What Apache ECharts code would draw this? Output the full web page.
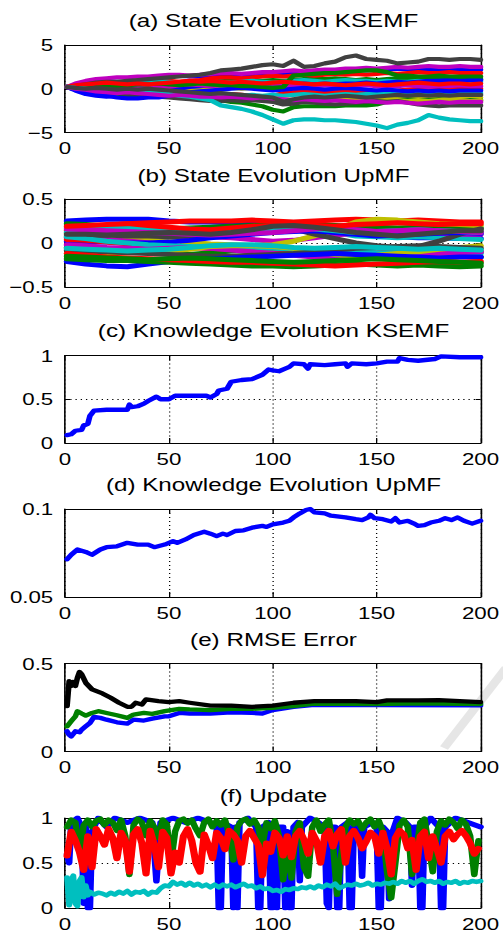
<!DOCTYPE html>
<html>
<head>
<meta charset="utf-8">
<script src="https://cdn.jsdelivr.net/npm/echarts@6/dist/echarts.min.js"></script>
<style>
  html, body { margin: 0; padding: 0; background: #fff; overflow: hidden; }
  /* the figure is laid out narrow and stretched horizontally, like the printed figure */
  #chart { width: 384px; height: 943px; transform: scaleX(1.31); transform-origin: 0 0; }
</style>
</head>
<body>
<div id="chart"></div>
<script>
// ---------------- data ----------------
// (a) state evolution, KSEMF: sample positions and trajectories
const stateX = [1,5,10,15,20,25,30,35,40,45,50,55,60,65,70,75,80,85,90,95,100,105,110,115,120,125,130,135,140,145,150,155,160,165,170,175,180,185,190,195,200];
const stateKsemfColors = ['b','g','r','c','m','y','k','b','g','r','c','m','y','k','b','g','r','c','m','k'];
const stateKsemf = [
  [0.2,0.3,0.4,0.5,0.6,0.6,0.7,0.8,0.9,1.1,1.4,1.5,1.4,1.4,1.5,1.6,1.7,1.6,1.5,1.6,1.6,1.7,1.8,1.8,1.9,2.0,2.0,2.1,2.2,2.1,2.2,2.2,2.3,2.2,2.1,2.2,2.2,2.3,2.2,2.2,2.2],
  [0.2,-0.1,-0.4,-0.6,-0.7,-0.8,-0.7,-0.6,-0.5,-0.3,-0.1,0.1,0.3,0.5,0.7,0.9,1.0,1.1,1.0,0.9,1.0,0.9,1.0,1.1,1.2,1.1,1.2,1.1,1.0,1.1,1.0,1.1,1.2,1.1,1.2,1.1,1.1,1.2,1.1,1.1,1.1],
  [0.2,0.2,0.3,0.4,0.4,0.5,0.6,0.6,0.7,0.8,0.9,0.8,0.9,1.0,1.2,1.3,1.3,1.2,1.3,1.4,1.5,1.4,1.5,1.6,1.5,1.6,1.7,1.6,1.7,1.6,1.7,1.8,1.7,1.8,1.9,1.8,1.8,1.9,1.8,1.8,1.8],
  [0.2,0.5,0.8,0.9,0.9,0.8,0.7,0.7,0.8,0.9,0.8,0.7,0.6,0.6,0.7,0.8,0.7,0.8,0.9,0.8,0.7,0.8,0.9,1.0,0.9,0.8,0.9,1.0,0.9,0.9,0.8,0.9,0.8,0.8,0.9,0.8,0.8,0.7,0.8,0.8,0.8],
  [0.2,0.6,0.9,1.1,1.2,1.3,1.3,1.4,1.4,1.5,1.6,1.6,1.5,1.6,1.7,1.8,1.8,1.7,1.8,1.9,1.9,2.0,2.1,2.0,2.1,2.2,2.2,2.3,2.3,2.4,2.3,2.4,2.5,2.4,2.5,2.6,2.5,2.5,2.6,2.5,2.5],
  [0.2,0.3,0.3,0.3,0.2,0.3,0.3,0.2,0.2,0.2,0.1,-0.3,-0.2,-0.1,0.0,0.1,0.1,0.0,0.1,0.2,0.1,0.0,0.0,-0.1,0.0,-0.1,-0.2,-0.1,-0.2,-0.3,-0.4,-0.8,-0.9,-1.0,-0.9,-1.0,-1.1,-1.0,-1.0,-1.1,-1.0],
  [0.2,0.3,0.5,0.7,0.8,0.8,0.9,1.0,1.1,1.2,1.3,1.4,1.5,1.6,1.8,2.1,2.2,2.3,2.5,2.7,2.8,2.6,3.2,2.5,2.6,2.9,3.1,3.6,3.8,3.4,3.3,3.2,2.9,3.0,3.1,3.4,3.4,3.3,3.4,3.4,3.3],
  [0.2,-0.2,-0.6,-0.8,-0.9,-0.8,-0.9,-0.8,-0.7,-0.5,-0.2,0.0,0.2,0.3,0.4,0.5,0.5,0.4,0.5,0.6,0.5,0.6,0.5,0.6,0.5,0.6,0.5,0.6,0.6,0.7,0.6,0.7,0.8,0.7,0.8,0.9,0.9,1.0,0.9,1.0,1.0],
  [0.2,0.0,-0.3,-0.5,-0.6,-0.7,-0.8,-0.7,-0.7,-0.6,-0.7,-0.9,-1.0,-1.1,-1.2,-1.3,-1.5,-1.6,-1.8,-2.0,-2.4,-2.6,-2.1,-2.0,-2.0,-2.0,-2.0,-1.9,-1.9,-1.9,-1.8,-1.5,-1.3,-1.2,-1.3,-1.3,-1.2,-1.3,-1.4,-1.3,-1.3],
  [0.2,0.0,-0.1,-0.2,-0.1,-0.2,-0.3,-0.2,-0.3,-0.4,-0.3,-0.4,-0.5,-0.6,-0.6,-0.7,-0.6,-0.7,-0.8,-0.9,-0.8,-0.5,-0.4,-0.3,-0.4,-0.5,-0.4,-0.3,-0.4,-0.3,-0.2,-0.3,-0.2,-0.1,0.0,-0.1,0.0,0.1,0.0,0.0,0.0],
  [0.2,0.1,0.0,-0.1,-0.2,-0.2,-0.3,-0.3,-0.2,-0.3,-0.5,-0.6,-0.5,-0.6,-0.7,-0.6,-0.7,-0.8,-0.7,-0.8,-0.7,-0.8,-0.7,-0.6,-0.7,-0.8,-0.7,-0.6,-0.7,-0.6,-0.5,-0.4,-0.5,-0.6,-0.5,-0.4,-0.5,-0.6,-0.5,-0.5,-0.5],
  [0.2,0.1,0.2,0.3,0.2,0.1,0.0,0.1,0.2,0.3,0.2,0.4,0.5,0.4,0.3,0.4,0.5,0.6,0.5,0.4,0.3,0.4,0.3,0.2,0.3,0.4,0.3,0.2,0.3,0.4,0.3,0.2,0.3,0.4,0.3,0.2,0.3,0.3,0.4,0.3,0.3],
  [0.2,0.1,-0.1,-0.2,-0.3,-0.4,-0.5,-0.6,-0.7,-0.6,-0.7,-0.8,-0.9,-0.8,-0.9,-1.0,-1.1,-1.0,-1.1,-1.2,-1.1,-1.2,-1.3,-1.2,-1.1,-1.2,-1.3,-1.2,-1.3,-1.4,-1.3,-1.2,-1.3,-1.4,-1.3,-1.4,-1.3,-1.2,-1.3,-1.4,-1.3],
  [0.2,0.0,-0.2,-0.3,-0.4,-0.5,-0.6,-0.6,-0.8,-0.9,-1.0,-1.1,-1.2,-1.3,-1.4,-1.4,-1.3,-1.4,-1.3,-1.4,-1.5,-1.8,-1.7,-1.5,-1.6,-1.7,-1.8,-1.7,-1.6,-1.5,-1.4,-1.5,-1.4,-1.6,-1.8,-1.9,-2.0,-1.9,-1.9,-1.9,-1.9],
  [0.2,-0.1,-0.4,-0.7,-0.8,-1.0,-1.1,-1.1,-1.0,-1.0,-0.8,-0.6,-0.4,-0.3,-0.2,-0.1,0.0,0.1,0.0,-0.1,-0.2,-0.1,0.0,0.1,0.0,-0.1,0.0,0.1,0.0,-0.1,-0.2,-0.1,-0.2,-0.3,-0.2,-0.3,-0.2,-0.3,-0.2,-0.2,-0.2],
  [0.2,0.2,0.1,0.2,0.3,0.3,0.4,0.5,0.5,0.6,0.5,0.4,0.5,0.6,0.5,0.4,0.4,0.3,0.3,0.2,0.1,0.2,1.5,1.6,1.7,1.8,1.8,1.9,2.0,2.1,2.1,1.9,1.5,1.5,1.4,1.4,1.5,1.4,1.4,1.4,1.4],
  [0.2,0.4,0.5,0.6,0.7,0.6,0.5,0.6,0.5,0.6,0.7,0.8,0.9,0.8,0.9,0.8,0.7,0.8,0.7,0.6,0.7,0.8,0.7,0.6,0.5,0.6,0.5,0.4,0.5,0.6,0.5,0.4,0.5,0.6,0.7,0.6,0.5,0.6,0.6,0.5,0.6],
  [0.2,0.1,0.0,-0.1,-0.2,-0.2,-0.3,-0.3,-0.4,-0.5,-0.6,-0.8,-0.9,-1.1,-1.3,-1.9,-2.1,-2.3,-2.6,-3.0,-3.5,-4.0,-3.6,-3.5,-3.5,-3.6,-3.6,-3.7,-3.8,-4.0,-4.2,-4.5,-4.1,-3.9,-3.6,-3.0,-3.3,-3.5,-3.6,-3.7,-3.7],
  [0.2,0.0,-0.1,-0.3,-0.4,-0.5,-0.4,-0.5,-0.6,-0.7,-0.8,-0.7,-0.8,-0.9,-0.9,-1.0,-0.9,-1.0,-1.1,-1.0,-1.1,-1.2,-1.3,-1.2,-1.3,-1.4,-1.3,-1.4,-1.5,-1.4,-1.5,-1.6,-1.5,-1.6,-1.7,-1.6,-1.5,-1.6,-1.5,-1.5,-1.5],
  [0.2,0.1,0.0,0.1,0.0,-0.1,0.0,-0.1,0.0,-0.1,-0.2,-0.3,-0.4,-0.5,-0.6,-0.5,-0.6,-0.7,-0.8,-0.9,-1.0,-1.5,-1.2,-1.0,-0.9,-1.0,-0.9,-0.8,-0.9,-1.0,-0.9,-0.8,-0.7,-0.8,-0.7,-0.8,-0.7,-0.8,-0.7,-0.7,-0.7]
];

// (b) state evolution, UpMF
const stateUpX = [1,10,20,30,40,50,60,70,80,90,100,110,120,130,140,150,160,170,180,190,200];
const stateUpmfColors = ['b','g','r','c','m','y','k','b','g','r','c','m','y','k','b','g','r','c','m','r','g','k','c'];
const stateUpmf = [
  [0.25,0.26,0.27,0.27,0.27,0.25,0.24,0.24,0.23,0.22,0.20,0.17,0.14,0.12,0.10,0.08,0.07,0.06,0.06,0.05,0.05],
  [0.22,0.21,0.19,0.18,0.17,0.16,0.17,0.18,0.19,0.20,0.21,0.22,0.21,0.20,0.19,0.18,0.17,0.18,0.19,0.18,0.17],
  [0.14,0.17,0.20,0.22,0.23,0.24,0.25,0.25,0.25,0.26,0.25,0.24,0.25,0.26,0.27,0.26,0.25,0.26,0.25,0.24,0.24],
  [0.18,0.18,0.19,0.19,0.18,0.17,0.16,0.14,0.12,0.11,0.13,0.17,0.15,0.12,0.08,0.07,0.06,0.07,0.06,0.05,0.04],
  [0.06,0.05,0.04,0.03,0.04,0.05,0.06,0.07,0.06,0.04,0.02,0.03,0.06,0.09,0.11,0.12,0.13,0.12,0.11,0.10,0.10],
  [0.11,0.12,0.10,0.08,0.06,0.03,0.01,-0.01,-0.02,-0.03,-0.02,0.02,0.08,0.15,0.24,0.27,0.26,0.24,0.22,0.21,0.20],
  [0.08,0.08,0.09,0.08,0.08,0.07,0.08,0.11,0.14,0.18,0.20,0.16,0.10,0.05,0.00,-0.03,-0.05,-0.04,0.02,0.10,0.16],
  [0.02,0.01,0.01,0.00,0.00,0.01,0.03,0.06,0.08,0.10,0.12,0.13,0.14,0.12,0.10,0.08,0.09,0.10,0.11,0.12,0.11],
  [-0.05,-0.07,-0.08,-0.10,-0.11,-0.12,-0.13,-0.11,-0.09,-0.08,-0.10,-0.12,-0.11,-0.09,-0.10,-0.12,-0.14,-0.15,-0.14,-0.15,-0.16],
  [0.04,0.03,0.01,-0.01,-0.03,-0.04,-0.05,-0.06,-0.07,-0.08,-0.09,-0.10,-0.11,-0.12,-0.12,-0.11,-0.10,-0.09,-0.10,-0.11,-0.10],
  [0.07,0.05,0.02,0.00,-0.02,-0.03,-0.04,-0.05,-0.05,-0.06,-0.06,-0.07,-0.08,-0.09,-0.10,-0.11,-0.11,-0.12,-0.11,-0.12,-0.12],
  [-0.02,-0.03,-0.05,-0.06,-0.07,-0.06,-0.05,-0.06,-0.08,-0.10,-0.12,-0.14,-0.16,-0.18,-0.17,-0.16,-0.15,-0.13,-0.12,-0.11,-0.10],
  [-0.12,-0.13,-0.12,-0.11,-0.10,-0.09,-0.07,-0.04,-0.03,-0.03,-0.04,-0.06,-0.09,-0.13,-0.15,-0.14,-0.12,-0.10,-0.07,-0.05,-0.03],
  [-0.08,-0.09,-0.10,-0.11,-0.12,-0.13,-0.14,-0.15,-0.15,-0.14,-0.13,-0.12,-0.10,-0.08,-0.06,-0.05,-0.04,-0.03,-0.04,-0.05,-0.06],
  [-0.21,-0.24,-0.26,-0.27,-0.24,-0.21,-0.19,-0.18,-0.17,-0.16,-0.15,-0.14,-0.13,-0.12,-0.13,-0.14,-0.15,-0.16,-0.17,-0.16,-0.16],
  [-0.18,-0.19,-0.20,-0.20,-0.21,-0.22,-0.23,-0.24,-0.25,-0.26,-0.26,-0.27,-0.26,-0.25,-0.24,-0.25,-0.26,-0.25,-0.26,-0.27,-0.26],
  [-0.12,-0.14,-0.16,-0.17,-0.18,-0.19,-0.20,-0.21,-0.22,-0.22,-0.23,-0.24,-0.25,-0.26,-0.25,-0.24,-0.23,-0.22,-0.21,-0.22,-0.21],
  [0.12,0.14,0.16,0.17,0.17,0.16,0.15,0.14,0.13,0.14,0.16,0.18,0.16,0.14,0.12,0.13,0.14,0.15,0.14,0.13,0.12],
  [0.16,0.15,0.14,0.13,0.12,0.11,0.10,0.09,0.10,0.11,0.12,0.14,0.16,0.17,0.15,0.13,0.14,0.15,0.14,0.13,0.12],
  [0.19,0.20,0.21,0.22,0.20,0.18,0.16,0.15,0.17,0.19,0.20,0.21,0.20,0.19,0.21,0.22,0.23,0.22,0.21,0.22,0.22],
  [-0.15,-0.16,-0.17,-0.18,-0.19,-0.18,-0.17,-0.18,-0.19,-0.20,-0.21,-0.22,-0.21,-0.20,-0.19,-0.18,-0.19,-0.20,-0.21,-0.22,-0.23],
  [0.10,0.10,0.09,0.10,0.11,0.12,0.11,0.10,0.12,0.15,0.19,0.20,0.18,0.15,0.12,0.10,0.08,0.10,0.12,0.14,0.14],
  [-0.06,-0.07,-0.08,-0.09,-0.08,-0.07,-0.05,-0.03,-0.02,-0.02,-0.03,-0.05,-0.06,-0.05,-0.04,-0.05,-0.06,-0.07,-0.06,-0.07,-0.08]
];

// (c) knowledge evolution, KSEMF
const knowKsemfX = [1,3,5,8,9,11,12,14,20,30,31,32,35,38,40,44,46,50,53,60,68,70,73,74,78,80,85,90,95,98,100,103,106,108,110,115,117,118,125,130,135,136,138,145,150,155,160,161,165,170,178,181,190,200];
const knowKsemf  = [0.09,0.10,0.14,0.15,0.20,0.22,0.31,0.37,0.38,0.38,0.44,0.41,0.42,0.45,0.48,0.53,0.50,0.50,0.54,0.54,0.54,0.52,0.56,0.60,0.62,0.70,0.72,0.73,0.78,0.84,0.83,0.82,0.85,0.87,0.91,0.90,0.85,0.90,0.89,0.90,0.91,0.87,0.91,0.90,0.91,0.93,0.93,0.97,0.95,0.94,0.96,0.99,0.98,0.98];

// (d) knowledge evolution, UpMF
const knowUpmfX = [1,3,6,10,13,17,20,25,30,35,40,43,48,52,54,58,62,67,70,73,76,78,82,86,90,95,97,100,105,108,110,113,116,118,120,125,128,132,135,140,143,146,147,149,153,157,159,161,165,168,170,173,176,180,183,186,189,192,196,200];
const knowUpmf  = [0.0715,0.074,0.077,0.0756,0.074,0.077,0.0783,0.0788,0.0808,0.0798,0.0798,0.0783,0.0798,0.0817,0.0808,0.0827,0.0852,0.0871,0.086,0.0846,0.086,0.0852,0.0875,0.0879,0.0894,0.0904,0.0898,0.0913,0.0923,0.0933,0.0952,0.0975,0.0994,0.1,0.0981,0.0975,0.0962,0.0956,0.0952,0.0942,0.0937,0.0952,0.0967,0.0948,0.0942,0.0929,0.0948,0.0923,0.0933,0.0917,0.0904,0.0908,0.0923,0.0933,0.0948,0.0937,0.0952,0.0933,0.0917,0.0933];

// (e) RMSE error
const rmseBlueX  = [1,2,3,5,7,8,10,12,14,17,20,25,30,33,38,42,48,50,55,60,70,80,90,95,100,110,120,150,200];
const rmseBlue   = [0.115,0.095,0.086,0.115,0.109,0.124,0.143,0.162,0.197,0.191,0.181,0.166,0.158,0.181,0.176,0.187,0.20,0.20,0.219,0.216,0.216,0.223,0.219,0.216,0.235,0.254,0.265,0.264,0.262];
const rmseGreenX = [1,3,5,6,8,10,13,16,20,25,30,33,38,42,48,55,60,70,80,90,100,110,120,150,170,200];
const rmseGreen  = [0.143,0.172,0.20,0.229,0.216,0.204,0.219,0.229,0.219,0.206,0.191,0.21,0.219,0.214,0.229,0.242,0.239,0.235,0.242,0.242,0.248,0.258,0.272,0.27,0.273,0.27];
const rmseBlackX = [1,2,3,4,5,6,7,8,10,13,18,22,26,30,32,34,37,39,45,50,55,60,70,80,90,100,110,120,130,140,150,155,170,180,190,200];
const rmseBlack  = [0.258,0.40,0.372,0.395,0.372,0.42,0.452,0.439,0.39,0.353,0.33,0.305,0.277,0.254,0.254,0.277,0.267,0.296,0.286,0.28,0.286,0.277,0.261,0.261,0.254,0.261,0.277,0.286,0.286,0.286,0.28,0.29,0.29,0.292,0.286,0.28];

// (f) update: red and green sampled at odd steps 1..199
const updRed = [
  0.58,0.85,0.75,0.62,0.42,0.8,0.45,0.88,0.8,0.7,
  0.88,0.78,0.55,0.84,0.75,0.4,0.82,0.88,0.72,0.38,
  0.86,0.7,0.45,0.85,0.78,0.38,0.62,0.5,0.8,0.88,
  0.75,0.5,0.4,0.82,0.7,0.55,0.84,0.78,0.65,0.86,
  0.82,0.75,0.5,0.8,0.86,0.78,0.7,0.36,0.72,0.62,
  0.84,0.78,0.58,0.8,0.56,0.8,0.86,0.76,0.6,0.84,
  0.75,0.5,0.8,0.86,0.68,0.82,0.88,0.5,0.8,0.86,
  0.78,0.66,0.74,0.84,0.8,0.6,0.84,0.66,0.37,0.78,
  0.86,0.82,0.66,0.76,0.42,0.8,0.85,0.55,0.8,0.66,
  0.5,0.8,0.85,0.76,0.82,0.86,0.8,0.72,0.6,0.66
];
const updGreen = [
  0.9,0.98,0.95,0.62,0.92,0.98,0.9,0.97,0.99,0.92,
  0.98,0.95,0.86,0.98,0.8,0.37,0.92,0.99,0.95,0.8,
  0.97,0.9,0.78,0.98,0.93,0.5,0.85,0.97,0.99,0.94,
  0.98,0.88,0.8,0.95,0.99,0.9,0.97,0.92,0.98,0.82,
  0.53,0.9,0.97,0.99,0.93,0.98,0.9,0.7,0.95,0.88,
  0.97,0.8,0.31,0.7,0.33,0.85,0.95,0.45,0.35,0.9,
  0.98,0.85,0.93,0.98,0.7,0.15,0.6,0.9,0.98,0.93,
  0.97,0.88,0.95,0.99,0.9,0.97,0.85,0.4,0.11,0.5,
  0.92,0.98,0.9,0.37,0.6,0.95,0.99,0.7,0.4,0.85,
  0.97,0.92,0.99,0.95,0.88,0.98,0.93,0.8,0.37,0.75
];
const updBlue = [[1,0.6],[2,0.5],[3,0.95],[6,1],[8,0.9],[9,0.05],[10,0.9],[11,0],[12,0],[13,0.85],[16,1],[20,0.9],[24,1],[30,0.95],[36,1],[42,0.95],[44,0.3],[46,0.95],[52,1],[58,0.95],[64,1],[70,0.95],[73,0.9],[74,0],[75,0],[76,0.95],[80,0.9],[81,0],[82,0.9],[83,0],[84,0.95],[88,1],[92,0.9],[93,0],[94,0],[95,0.9],[98,0.95],[99,0],[100,0],[101,0.9],[102,0],[103,0.9],[105,0.9],[106,0],[107,0.85],[108,0],[109,0],[110,0.9],[112,0.95],[113,0.3],[114,0.9],[118,1],[122,0.95],[125,0.9],[126,0.05],[127,0],[128,0.9],[130,0.9],[131,0],[132,0],[133,0.9],[136,0.95],[137,0],[138,0],[139,0.9],[142,0.9],[143,0.35],[144,0.9],[148,0.95],[150,0.9],[151,0],[152,0],[153,0.9],[155,0.85],[156,0.1],[157,0.8],[160,1],[164,0.95],[166,0.9],[167,0.25],[168,0.9],[170,0.9],[171,0],[172,0],[173,0.9],[176,1],[180,0.9],[181,0],[182,0],[183,0.9],[188,1],[194,0.95],[200,0.9]];
const updCyan = [[1,0.34],[2,0.03],[3,0.3],[4,0.36],[5,0.05],[6,0.02],[7,0.3],[8,0.34],[9,0.12],[10,0.25],[11,0.14],[12,0.18],[14,0.15],[16,0.17],[18,0.16],[20,0.14],[22,0.17],[24,0.15],[26,0.18],[28,0.16],[30,0.19],[32,0.15],[34,0.18],[36,0.17],[38,0.19],[40,0.15],[42,0.18],[44,0.17],[46,0.22],[48,0.25],[50,0.24],[52,0.29],[54,0.26],[56,0.28],[58,0.25],[60,0.28],[62,0.25],[64,0.27],[66,0.24],[68,0.26],[70,0.23],[72,0.26],[74,0.23],[76,0.26],[78,0.24],[80,0.26],[82,0.23],[84,0.25],[86,0.27],[88,0.24],[90,0.25],[92,0.22],[94,0.24],[96,0.21],[98,0.22],[100,0.19],[102,0.2],[104,0.18],[106,0.21],[108,0.2],[110,0.22],[112,0.21],[114,0.23],[116,0.22],[118,0.24],[120,0.22],[122,0.25],[124,0.23],[126,0.26],[128,0.24],[130,0.27],[132,0.22],[134,0.24],[136,0.26],[138,0.25],[140,0.27],[142,0.25],[144,0.26],[146,0.28],[148,0.25],[150,0.27],[152,0.26],[154,0.28],[156,0.27],[158,0.29],[160,0.27],[162,0.3],[164,0.28],[166,0.3],[168,0.27],[170,0.3],[172,0.32],[174,0.29],[176,0.3],[178,0.28],[180,0.3],[182,0.27],[184,0.29],[186,0.28],[188,0.3],[190,0.27],[192,0.29],[194,0.28],[196,0.3],[198,0.29],[200,0.3]];

// axis ticks
const xTicks = { min: 0, max: 200, step: 50 };

// ---------------- layout & style ----------------
const SX = 1.31;                 // horizontal stretch of the container
const FONT = '"Liberation Sans", Arial, Helvetica, sans-serif';
const PALETTE = { b: '#0000ff', g: '#008000', r: '#ff0000', c: '#00bfbf', m: '#bf00bf', y: '#bfbf00', k: '#404040' };
const BOX_LEFT = 65, BOX_WIDTH = 417;   // plot box in page pixels

const panels = [
  { title: '(a) State Evolution KSEMF',     ty: 20.5,  top: 45,    h: 87.5, min: -5,   max: 5,   step: 5 },
  { title: '(b) State Evolution UpMF',      ty: 176,   top: 199,   h: 88,   min: -0.5, max: 0.5, step: 0.5 },
  { title: '(c) Knowledge Evolution KSEMF', ty: 330.5, top: 355.5, h: 87.5, min: 0,    max: 1,   step: 0.5 },
  { title: '(d) Knowledge Evolution UpMF',  ty: 485,   top: 509,   h: 88,   min: 0.05, max: 0.1, step: 0.05 },
  { title: '(e) RMSE Error',                ty: 639.5, top: 663.5, h: 88,   min: 0,    max: 0.5, step: 0.5 },
  { title: '(f) Update',                    ty: 796,   top: 818,   h: 90,   min: 0,    max: 1,   step: 0.5 }
];

const fmt = v => String(+v.toFixed(4)).replace('-', '\u2212');
const dotted = { show: true, lineStyle: { color: '#000', type: [1, 3], width: 1 } };
const edge = { show: true, onZero: false, lineStyle: { color: '#000', width: 1.2 } };

const grid = [], xAxis = [], yAxis = [], series = [], graphic = [];

panels.forEach((p, i) => {
  grid.push({ left: BOX_LEFT / SX, width: BOX_WIDTH / SX, top: p.top, height: p.h });
  const xBase = { gridIndex: i, type: 'value', min: xTicks.min, max: xTicks.max, interval: xTicks.step, axisLine: edge };
  xAxis.push(Object.assign({}, xBase, {
    position: 'bottom',
    axisTick: { show: true, inside: true, length: 5, lineStyle: { color: '#000' } },
    axisLabel: { show: true, color: '#000', fontSize: 17, fontFamily: FONT, margin: 7, formatter: fmt },
    splitLine: dotted
  }));
  xAxis.push(Object.assign({}, xBase, {
    position: 'top',
    axisTick: { show: true, inside: true, length: 5, lineStyle: { color: '#000' } },
    axisLabel: { show: false }, splitLine: { show: false }
  }));
  const yBase = { gridIndex: i, type: 'value', min: p.min, max: p.max, interval: p.step, axisLine: edge };
  yAxis.push(Object.assign({}, yBase, {
    position: 'left',
    axisTick: { show: true, inside: true, length: 5 / SX, lineStyle: { color: '#000' } },
    axisLabel: { show: true, color: '#000', fontSize: 17, fontFamily: FONT, margin: 9, formatter: fmt },
    splitLine: dotted
  }));
  yAxis.push(Object.assign({}, yBase, {
    position: 'right',
    axisTick: { show: true, inside: true, length: 5 / SX, lineStyle: { color: '#000' } },
    axisLabel: { show: false }, splitLine: { show: false }
  }));
  graphic.push({
    type: 'text', x: (BOX_LEFT + BOX_WIDTH / 2) / SX, y: p.ty, silent: true, z: 50,
    style: { text: p.title, font: '18.5px ' + FONT, fill: '#000',
             textAlign: 'center', textVerticalAlign: 'middle', align: 'center', verticalAlign: 'middle' }
  });
});

// faint diagonal stroke of the publisher mark behind panel (e)
graphic.push({
  type: 'line', silent: true, z: -10,
  shape: { x1: 444 / SX, y1: 748, x2: 506 / SX, y2: 668 },
  style: { stroke: '#e6e6e6', lineWidth: 7 }
});

function addLine(panel, data, color, width) {
  series.push({
    type: 'line', xAxisIndex: panel * 2, yAxisIndex: panel * 2, data: data,
    showSymbol: false, symbol: 'none', smooth: false, silent: true, clip: true,
    lineStyle: { color: color, width: width, join: 'round', cap: 'round' }
  });
}
const zip = (xs, ys) => xs.map((x, k) => [x, ys[k]]);
const oddSteps = ys => ys.map((y, k) => [1 + 2 * k, y]);

stateKsemf.forEach((ys, k) => addLine(0, zip(stateX, ys), PALETTE[stateKsemfColors[k]], 4.2));
stateUpmf.forEach((ys, k) => addLine(1, zip(stateUpX, ys), PALETTE[stateUpmfColors[k]], 5));
addLine(2, zip(knowKsemfX, knowKsemf), PALETTE.b, 4.3);
addLine(3, zip(knowUpmfX, knowUpmf), PALETTE.b, 4.3);
addLine(4, zip(rmseBlueX, rmseBlue), PALETTE.b, 4.3);
addLine(4, zip(rmseGreenX, rmseGreen), PALETTE.g, 4.3);
addLine(4, zip(rmseBlackX, rmseBlack), '#000', 4.3);
addLine(5, updBlue, PALETTE.b, 5);
addLine(5, oddSteps(updGreen), PALETTE.g, 5);
addLine(5, oddSteps(updRed), PALETTE.r, 5.5);
addLine(5, updCyan, PALETTE.c, 4.5);

const chart = echarts.init(document.getElementById('chart'), null, { renderer: 'svg' });
chart.setOption({
  animation: false,
  backgroundColor: '#fff',
  grid, xAxis, yAxis, series, graphic
});
</script>
</body>
</html>
